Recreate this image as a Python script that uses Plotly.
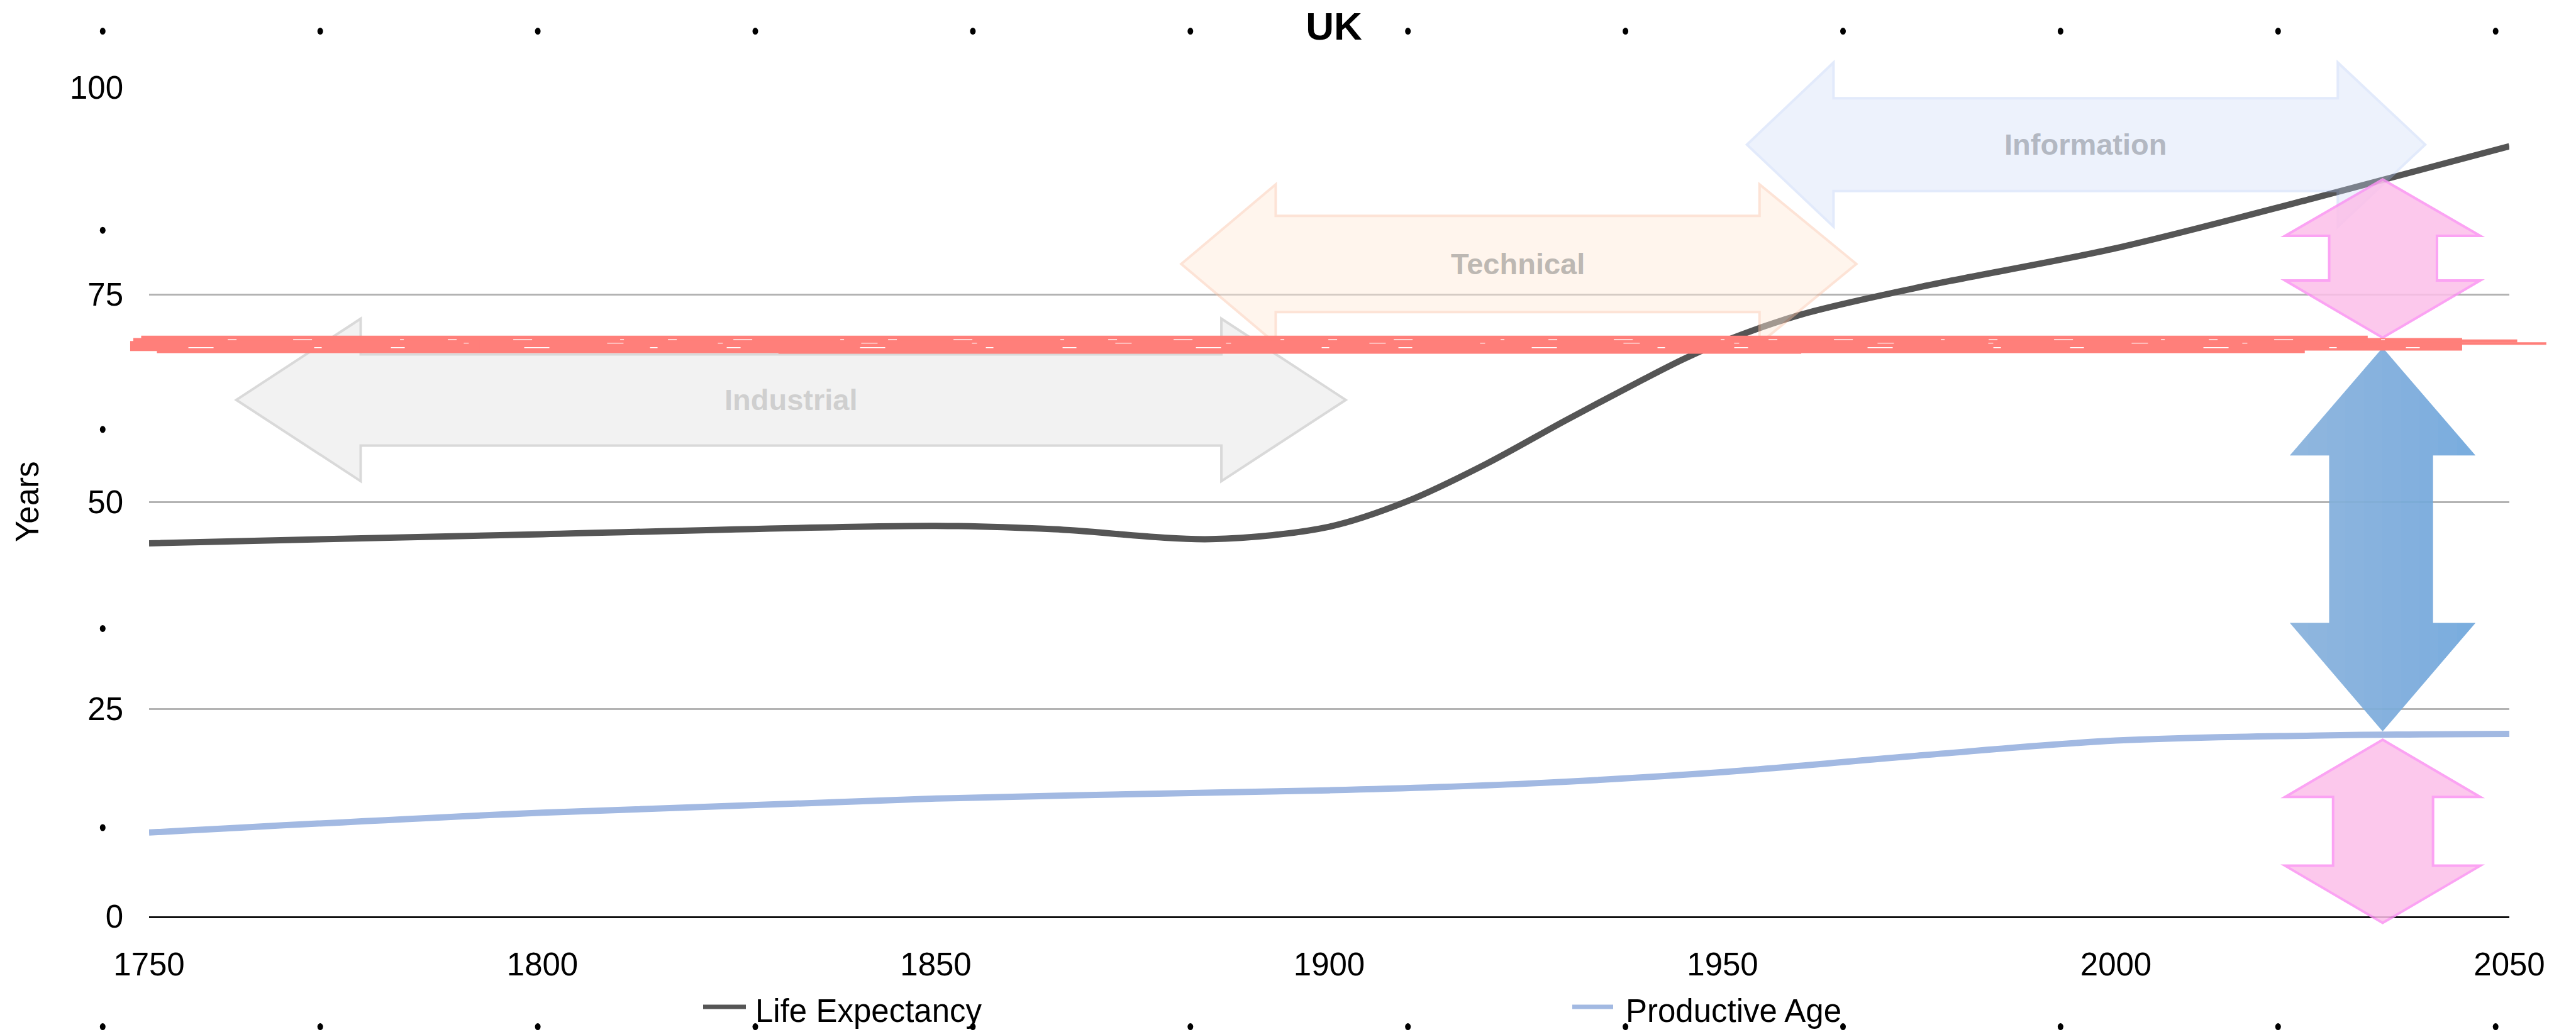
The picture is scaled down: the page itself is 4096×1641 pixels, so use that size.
import plotly.graph_objects as go

# ---- data -------------------------------------------------------------
years_life = [1750, 1800, 1850, 1865, 1885, 1900, 1910, 1920, 1930, 1940, 1945, 1950,
              1960, 1975, 2000, 2025, 2050]
life_expectancy = [45.0, 46.1, 47.1, 46.7, 45.5, 47.0, 50.1, 54.6, 59.8, 64.8, 67.2, 69.3,
                   72.6, 75.9, 80.6, 86.6, 92.9]

years_prod = [1750, 1800, 1850, 1900, 1925, 1950, 1975, 2000, 2025, 2050]
productive_age = [10.1, 12.5, 14.2, 15.2, 16.0, 17.4, 19.4, 21.2, 21.8, 22.0]

x_ticks = [1750, 1800, 1850, 1900, 1950, 2000, 2050]
y_ticks = [0, 25, 50, 75, 100]

# era arrows: (label, left tip, left head base, right head base, right tip, centre, head half, body half)
eras = [
    ("Industrial", 1761.1, 1776.9, 1886.3, 1902.1, 62.3, 9.8, 5.5),
    ("Technical", 1881.2, 1893.2, 1954.7, 1967.0, 78.7, 9.6, 5.8),
    ("Information", 1953.1, 1964.1, 2028.2, 2039.3, 93.1, 9.9, 5.6),
]

# ---- page geometry ----------------------------------------------------
W, H = 4096, 1641
ML, MR, MT, MB = 237, 106, 139, 184
PW, PH = W - ML - MR, H - MT - MB
X0, X1 = 1750, 2050
Y0, Y1 = 0, 100
FONT = "Liberation Sans, Arial, Helvetica, sans-serif"


def fx(year):
    return (year - X0) / (X1 - X0)


def fy(val):
    return (val - Y0) / (Y1 - Y0)


def px_x(X):
    return (X - ML) / PW


def px_y(Y):
    return (H - MB - Y) / PH


def to_path(pts):
    return "M" + " L".join(f"{fx(a):.5f},{fy(b):.5f}" for a, b in pts) + " Z"


def hpoints(xl, xhl, xhr, xr, yc, hh, bh):
    return [(xl, yc), (xhl, yc + hh), (xhl, yc + bh), (xhr, yc + bh), (xhr, yc + hh),
            (xr, yc), (xhr, yc - hh), (xhr, yc - bh), (xhl, yc - bh), (xhl, yc - hh)]


def vpoints(xc, head_half, shaft_l, shaft_r, ytop, yhead_top, yhead_bot, ybot):
    return [(xc, ytop), (xc + head_half, yhead_top), (shaft_r, yhead_top), (shaft_r, yhead_bot),
            (xc + head_half, yhead_bot), (xc, ybot), (xc - head_half, yhead_bot),
            (shaft_l, yhead_bot), (shaft_l, yhead_top), (xc - head_half, yhead_top)]


def clip_left_of(pts, xcut):
    """Keep the part of a polygon with x <= xcut (Sutherland-Hodgman, one edge)."""
    out = []
    n = len(pts)
    for i in range(n):
        a, b = pts[i], pts[(i + 1) % n]
        ina, inb = a[0] <= xcut, b[0] <= xcut
        if ina:
            out.append(a)
        if ina != inb:
            t = (xcut - a[0]) / (b[0] - a[0])
            out.append((xcut, a[1] + t * (b[1] - a[1])))
    return out


fig = go.Figure()
fig.add_trace(go.Scatter(x=years_life, y=life_expectancy, mode="lines", name="Life Expectancy",
                         line=dict(color="#555555", width=10, shape="spline", smoothing=0.9),
                         showlegend=False))
fig.add_trace(go.Scatter(x=years_prod, y=productive_age, mode="lines", name="Productive Age",
                         line=dict(color="#a2b9e2", width=10, shape="spline", smoothing=1.0),
                         showlegend=False))

shapes = []
annotations = []

# era arrows
era_style = [
    dict(fill="#f2f2f2", line="#d9d9d9", opacity=1.0, text="#cfcfcf"),
    dict(fill="#ffe9d9", line="#fbc3a6", opacity=0.45, text="#bdb8b3"),
    dict(fill="#cadaf8", line="#a9c1f5", opacity=0.33, text="#b3b8c2"),
]
for (label, xl, xhl, xhr, xr, yc, hh, bh), st in zip(eras, era_style):
    shapes.append(dict(type="path", xref="paper", yref="paper", layer="above",
                       path=to_path(hpoints(xl, xhl, xhr, xr, yc, hh, bh)),
                       fillcolor=st["fill"], opacity=st["opacity"],
                       line=dict(color=st["line"], width=4)))
    annotations.append(dict(x=(xhl + xhr) / 2, y=yc, xref="x", yref="y", text=label,
                            showarrow=False, xanchor="center", yanchor="middle",
                            font=dict(family=FONT, size=47, color=st["text"], weight="bold")))

# vertical gap arrows
PINK_FILL, PINK_LINE = "#fcbfe9", "#fb93f2"
shapes.append(dict(type="path", xref="paper", yref="paper", layer="above", opacity=0.85,
                   path=to_path(vpoints(2033.9, 12.4, 2027.1, 2040.8, 88.9, 82.1, 76.7, 69.8)),
                   fillcolor=PINK_FILL, line=dict(color=PINK_LINE, width=4)))

# blue arrow with a soft left-to-right shading
blue_pts = vpoints(2033.9, 11.8, 2027.1, 2040.3, 68.6, 55.6, 35.4, 22.3)
shapes.append(dict(type="path", xref="paper", yref="paper", layer="above", opacity=0.9,
                   path=to_path(blue_pts), fillcolor="#6ca4da", line=dict(width=0)))
x_left, x_right = 2022.1, 2045.7
n_steps = 10
for k in range(1, n_steps):
    xc = x_left + (x_right - x_left) * k / n_steps
    shapes.append(dict(type="path", xref="paper", yref="paper", layer="above", opacity=0.022,
                       path=to_path(clip_left_of(blue_pts, xc)),
                       fillcolor="white", line=dict(width=0)))

shapes.append(dict(type="path", xref="paper", yref="paper", layer="above", opacity=0.85,
                   path=to_path(vpoints(2033.9, 12.4, 2027.6, 2040.3, 21.3, 14.4, 6.1, -0.8)),
                   fillcolor=PINK_FILL, line=dict(color=PINK_LINE, width=4)))

# red brush stroke at the productive threshold
RED = "#ff7f7a"
red_parts = [
    (1748.0, 2044.0, 69.0, 20),
    (1749.0, 2032.0, 69.75, 8),
    (1751.0, 2024.0, 68.25, 8),
    (1747.6, 1792.0, 68.8, 16),
    (1830.0, 1960.0, 68.1, 6),
    (2028.0, 2054.7, 69.1, 4),
    (2036.0, 2051.0, 69.4, 5),
]
for xa, xb, yv, w in red_parts:
    shapes.append(dict(type="line", xref="paper", yref="paper", layer="above",
                       x0=fx(xa), x1=fx(xb), y0=fy(yv), y1=fy(yv),
                       line=dict(color=RED, width=w)))
scratches = [
    (1760.0, 2035.0, 69.55, 1.5, "14px,90px,30px,140px,6px,70px"),
    (1755.0, 2040.0, 68.6, 1.5, "40px,160px,12px,110px,22px,190px"),
    (1790.0, 2030.0, 69.15, 1.2, "8px,220px,26px,150px"),
]
for xa, xb, yv, w, dash in scratches:
    shapes.append(dict(type="line", xref="paper", yref="paper", layer="above",
                       x0=fx(xa), x1=fx(xb), y0=fy(yv), y1=fy(yv),
                       line=dict(color="white", width=w, dash=dash)))

# frame handles
dot_x = [163.3 + k * 345.9 for k in range(12)]
dot_rows = [49.6, 1632.6]
dot_col = [49.6 + j * 316.6 for j in range(1, 5)]
dots = [(x, y) for y in dot_rows for x in dot_x] + [(dot_x[0], y) for y in dot_col]
for x, y in dots:
    shapes.append(dict(type="circle", xref="paper", yref="paper",
                       xsizemode="pixel", ysizemode="pixel",
                       xanchor=px_x(x), yanchor=px_y(y),
                       x0=-4.5, x1=4.5, y0=-5.5, y1=5.5,
                       fillcolor="black", line=dict(width=0), layer="above"))

# legend
legend_items = [("Life Expectancy", "#555555", 1118, 1186, 1199),
                ("Productive Age", "#a2b9e2", 2500, 2565, 2583)]
for text, col, a, b, tx in legend_items:
    shapes.append(dict(type="line", xref="paper", yref="paper",
                       x0=px_x(a), x1=px_x(b), y0=px_y(1601), y1=px_y(1601),
                       line=dict(color=col, width=7)))
    annotations.append(dict(x=px_x(tx), y=px_y(1607), xref="paper", yref="paper",
                            text=text, showarrow=False, xanchor="left", yanchor="middle",
                            font=dict(family=FONT, size=51, color="black")))

# axis title
annotations.append(dict(x=px_x(43), y=px_y(798), xref="paper", yref="paper", text="Years",
                        textangle=-90, showarrow=False, xanchor="center", yanchor="middle",
                        font=dict(family=FONT, size=51, color="black")))

fig.update_layout(
    width=W, height=H,
    margin=dict(l=ML, r=MR, t=MT, b=MB, autoexpand=False),
    paper_bgcolor="white", plot_bgcolor="white",
    showlegend=False,
    title=dict(text="UK", x=px_x(2121), xref="paper", xanchor="center",
               y=1 - 41 / H, yref="container", yanchor="middle",
               font=dict(family=FONT, size=62, color="black", weight="bold")),
    xaxis=dict(range=[X0, X1], tickvals=x_ticks, ticktext=[str(v) for v in x_ticks],
               showgrid=False, zeroline=False, showline=True, linecolor="#111111",
               linewidth=2.5, ticks="", ticklabelstandoff=30,
               tickfont=dict(family=FONT, size=51, color="black"), fixedrange=True),
    yaxis=dict(range=[Y0, Y1], tickvals=y_ticks, ticktext=[str(v) for v in y_ticks],
               showgrid=True, gridcolor="#b3b3b3", gridwidth=2.5, zeroline=False,
               showline=False, ticks="", ticklabelstandoff=40,
               tickfont=dict(family=FONT, size=51, color="black"), fixedrange=True),
    shapes=shapes,
    annotations=annotations,
)

fig.write_html("out.html")
